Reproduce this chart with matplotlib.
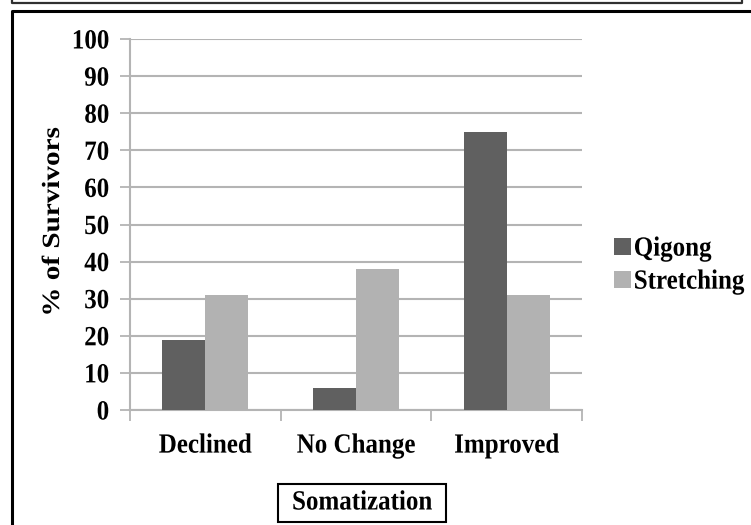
import matplotlib
matplotlib.use('Agg')
import matplotlib.pyplot as plt
import numpy as np
from matplotlib.lines import Line2D
from matplotlib.patheffects import AbstractPathEffect
from matplotlib.transforms import Affine2D

plt.rcParams['font.family'] = ['Liberation Serif', 'DejaVu Serif']
plt.rcParams['font.weight'] = 'bold'

# 数据
categories = ['Declined', 'No Change', 'Improved']
qigong = [19, 6, 75]
stretching = [31, 38, 31]
series_names = ['Qigong', 'Stretching']
yticks = list(range(0, 101, 10))

dark = '#606060'
light = '#b2b2b2'
grid_c = '#b4b4b4'


# 窄体字效果: 在字形坐标里压缩文字
class Squeeze(AbstractPathEffect):
    def __init__(self, sx=0.9, sy=1.0, anchor='center'):
        super().__init__()
        self.sx, self.sy, self.anchor = sx, sy, anchor

    def draw_path(self, renderer, gc, tpath, affine, rgbFace=None):
        ext = tpath.get_extents()
        if self.anchor == 'left':
            cx = ext.x0
        elif self.anchor == 'right':
            cx = ext.x1
        else:
            cx = (ext.x0 + ext.x1) / 2
        cy = (ext.y0 + ext.y1) / 2
        t = Affine2D().translate(-cx, -cy).scale(self.sx, self.sy).translate(cx, cy) + affine
        renderer.draw_path(gc, tpath, t, rgbFace)


W, H = 751, 525
FS = 20
fig = plt.figure(figsize=(W / 100, H / 100), dpi=100)
ax = fig.add_axes([130 / W, (H - 410) / H, (582 - 130) / W, (410 - 39) / H])

x = np.arange(len(categories))
bw = 0.285
ax.bar(x - bw / 2, qigong, bw, color=dark, label=series_names[0], zorder=3)
ax.bar(x + bw / 2, stretching, bw, color=light, label=series_names[1], zorder=3)

ax.set_xlim(-0.5, len(categories) - 0.5)
ax.set_ylim(0, 100)
ax.set_yticks(yticks)
ax.set_yticklabels([str(v) for v in yticks], fontsize=FS, fontweight='bold')
ax.yaxis.grid(True, color=grid_c, linewidth=1.5, zorder=0)

# x轴: 类别标签放在中间, 刻度放在分界处
ax.set_xticks(x)
ax.set_xticklabels(categories, fontsize=FS, fontweight='bold')
ax.tick_params(axis='x', length=0, pad=17)
ax.set_xticks(np.arange(-0.5, len(categories)), minor=True)
ax.tick_params(axis='x', which='minor', length=8, width=1.3, color=grid_c)
ax.tick_params(axis='y', length=7, width=1.3, color=grid_c, pad=8)

for s in ['top', 'right']:
    ax.spines[s].set_visible(False)
for s in ['left', 'bottom']:
    ax.spines[s].set_color(grid_c)
    ax.spines[s].set_linewidth(1.5)

for t in ax.get_yticklabels():
    t.set_path_effects([Squeeze(0.9, anchor='right')])
for t in ax.get_xticklabels():
    t.set_path_effects([Squeeze(0.9)])

# y轴标题
ylab = fig.text(53 / W, (H - 222) / H, '% of Survivors', fontsize=21, fontweight='bold',
                rotation=90, rotation_mode='anchor', ha='center', va='center')
ylab.set_path_effects([Squeeze(1.0, 0.85)])

leg = fig.legend(loc='center left', bbox_to_anchor=(614 / W, (H - 265) / H),
                 frameon=False, fontsize=18, handlelength=0.69, handleheight=0.67,
                 handletextpad=0.1, labelspacing=0.4, borderpad=0, borderaxespad=0)
for t in leg.get_texts():
    t.set_fontweight('bold')
    t.set_path_effects([Squeeze(1.0, 1.11)])

soma = fig.text(362 / W, (H - 503) / H, 'Somatization', fontsize=FS, fontweight='bold',
                ha='center', va='center',
                bbox=dict(boxstyle='square,pad=0.22', fc='white', ec='black', lw=1.5))
soma.set_path_effects([Squeeze(0.9)])

# 外框
fig.add_artist(Line2D([12 / W, 12 / W, 742 / W, 742 / W], [1, (H - 3) / H, (H - 3) / H, 1],
                      transform=fig.transFigure, color='#303030', lw=1.6))
fig.add_artist(Line2D([12 / W, 12 / W, 1], [0, (H - 11) / H, (H - 11) / H],
                      transform=fig.transFigure, color='black', lw=2.2))

fig.savefig('out.png', dpi=100)
